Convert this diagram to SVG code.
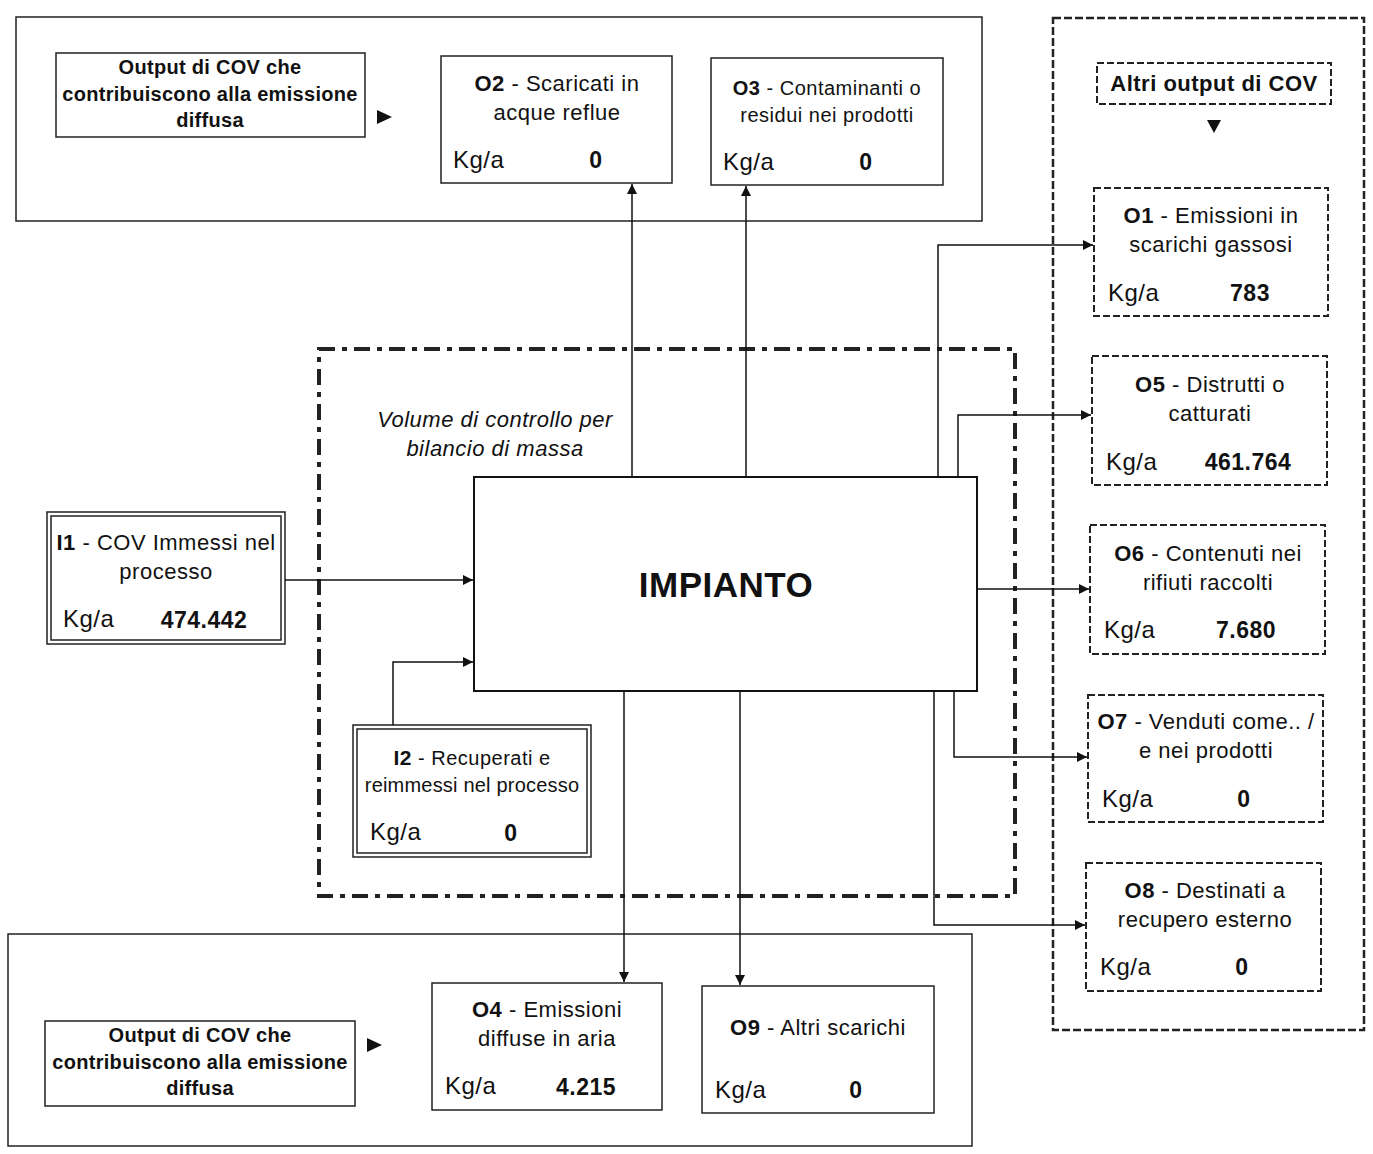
<svg xmlns="http://www.w3.org/2000/svg" width="1373" height="1154" viewBox="0 0 1373 1154">
<style>
text{font-family:"Liberation Sans",Arial,sans-serif;fill:#111;letter-spacing:0.5px}
.t{font-size:22px;text-anchor:middle}
.ts{font-size:20px;text-anchor:middle}
.b{font-weight:bold}
.k{font-size:24px}
.v{font-size:23px;font-weight:bold;text-anchor:middle}
.hd{font-size:20px;font-weight:bold;text-anchor:middle;letter-spacing:0.3px}
.solid{fill:#fff;stroke:#222;stroke-width:1.5}
.dash{fill:#fff;stroke:#222;stroke-width:2;stroke-dasharray:7 3}
.dbl{fill:none;stroke:#222;stroke-width:1.5}
.conn path{fill:none;stroke:#111;stroke-width:1.5}
.tri{fill:#111}
</style>
<defs>
<marker id="ah" viewBox="0 0 10 10" refX="10" refY="5" markerWidth="10" markerHeight="10" markerUnits="userSpaceOnUse" orient="auto">
<path d="M0,0 L10,5 L0,10 z" fill="#111"/>
</marker>
</defs>
<rect width="1373" height="1154" fill="#fff"/>

<g id="top-frame">
<rect x="16" y="17" width="966" height="204" fill="none" stroke="#222" stroke-width="1.5"/>
</g>
<g id="bottom-frame">
<rect x="8" y="934" width="964" height="212" fill="none" stroke="#222" stroke-width="1.5"/>
</g>
<g id="right-frame">
<rect x="1053" y="18" width="311" height="1012" fill="none" stroke="#222" stroke-width="2.5" stroke-dasharray="8 3"/>
</g>
<g id="control-volume">
<rect x="319" y="349" width="696" height="547" fill="none" stroke="#222" stroke-width="4" stroke-dasharray="16 7 5 7"/>
<text x="495" y="427" style="font-size:22px;font-style:italic;text-anchor:middle">Volume di controllo per</text>
<text x="495" y="456" style="font-size:22px;font-style:italic;text-anchor:middle">bilancio di massa</text>
</g>

<g id="label-top">
<rect class="solid" x="56" y="53" width="309" height="84"/>
<text class="hd" x="210" y="74">Output di COV che</text>
<text class="hd" x="210" y="101">contribuiscono alla emissione</text>
<text class="hd" x="210" y="127">diffusa</text>
<path class="tri" d="M377,110 L392,117 L377,124 z"/>
</g>

<g id="label-bottom">
<rect class="solid" x="45" y="1021" width="310" height="85"/>
<text class="hd" x="200" y="1042">Output di COV che</text>
<text class="hd" x="200" y="1069">contribuiscono alla emissione</text>
<text class="hd" x="200" y="1095">diffusa</text>
<path class="tri" d="M367,1038 L382,1045 L367,1052 z"/>
</g>

<g id="label-right">
<rect class="dash" x="1097" y="63" width="234" height="41"/>
<text class="b" x="1214" y="91" style="font-size:22px;text-anchor:middle">Altri output di COV</text>
<path class="tri" d="M1207,120 L1221,120 L1214,133 z"/>
</g>

<g id="O2">
<rect class="solid" x="441" y="56" width="231" height="127"/>
<text class="t" x="557" y="91"><tspan class="b">O2</tspan> - Scaricati in</text>
<text class="t" x="557" y="120">acque reflue</text>
<text class="k" x="453" y="168">Kg/a</text>
<text class="v" x="596" y="168">0</text>
</g>

<g id="O3">
<rect class="solid" x="711" y="58" width="232" height="127"/>
<text class="ts" x="827" y="95"><tspan class="b">O3</tspan> - Contaminanti o</text>
<text class="ts" x="827" y="122">residui nei prodotti</text>
<text class="k" x="723" y="170">Kg/a</text>
<text class="v" x="866" y="170">0</text>
</g>

<g id="O1">
<rect class="dash" x="1094" y="188" width="234" height="128"/>
<text class="t" x="1211" y="223"><tspan class="b">O1</tspan> - Emissioni in</text>
<text class="t" x="1211" y="252">scarichi gassosi</text>
<text class="k" x="1108" y="301">Kg/a</text>
<text class="v" x="1250" y="301">783</text>
</g>

<g id="O5">
<rect class="dash" x="1092" y="356" width="235" height="129"/>
<text class="t" x="1210" y="392"><tspan class="b">O5</tspan> - Distrutti o</text>
<text class="t" x="1210" y="421">catturati</text>
<text class="k" x="1106" y="470">Kg/a</text>
<text class="v" x="1248" y="470">461.764</text>
</g>

<g id="O6">
<rect class="dash" x="1090" y="525" width="235" height="129"/>
<text class="t" x="1208" y="561"><tspan class="b">O6</tspan> - Contenuti nei</text>
<text class="t" x="1208" y="590">rifiuti raccolti</text>
<text class="k" x="1104" y="638">Kg/a</text>
<text class="v" x="1246" y="638">7.680</text>
</g>

<g id="O7">
<rect class="dash" x="1088" y="695" width="235" height="127"/>
<text class="t" x="1206" y="729"><tspan class="b">O7</tspan> - Venduti come.. /</text>
<text class="t" x="1206" y="758">e nei prodotti</text>
<text class="k" x="1102" y="807">Kg/a</text>
<text class="v" x="1244" y="807">0</text>
</g>

<g id="O8">
<rect class="dash" x="1086" y="863" width="235" height="128"/>
<text class="t" x="1205" y="898"><tspan class="b">O8</tspan> - Destinati a</text>
<text class="t" x="1205" y="927">recupero esterno</text>
<text class="k" x="1100" y="975">Kg/a</text>
<text class="v" x="1242" y="975">0</text>
</g>

<g id="I1">
<rect class="dbl" x="47" y="512" width="238" height="132"/>
<rect class="dbl" x="51" y="516" width="230" height="124" fill="#fff"/>
<text class="t" x="166" y="550"><tspan class="b">I1</tspan> - COV Immessi nel</text>
<text class="t" x="166" y="579">processo</text>
<text class="k" x="63" y="627">Kg/a</text>
<text class="v" x="204" y="628">474.442</text>
</g>

<g id="I2">
<rect class="dbl" x="353" y="725" width="238" height="132"/>
<rect class="dbl" x="357" y="729" width="230" height="124"/>
<text class="ts" x="472" y="765"><tspan class="b" style="font-size:21px">I2</tspan> - Recuperati e</text>
<text class="ts" x="472" y="792" style="letter-spacing:0.2px">reimmessi nel processo</text>
<text class="k" x="370" y="840">Kg/a</text>
<text class="v" x="511" y="841">0</text>
</g>

<g id="O4">
<rect class="solid" x="432" y="983" width="230" height="127"/>
<text class="t" x="547" y="1017"><tspan class="b">O4</tspan> - Emissioni</text>
<text class="t" x="547" y="1046">diffuse in aria</text>
<text class="k" x="445" y="1094">Kg/a</text>
<text class="v" x="586" y="1095">4.215</text>
</g>

<g id="O9">
<rect class="solid" x="702" y="986" width="232" height="127"/>
<text class="t" x="818" y="1035"><tspan class="b">O9</tspan> - Altri scarichi</text>
<text class="k" x="715" y="1098">Kg/a</text>
<text class="v" x="856" y="1098">0</text>
</g>

<g id="connectors" class="conn">
<path d="M285,580 H473" marker-end="url(#ah)"/>
<path d="M393,725 V662 H473" marker-end="url(#ah)"/>
<path d="M632,477 V184" marker-end="url(#ah)"/>
<path d="M746,477 V186" marker-end="url(#ah)"/>
<path d="M938,478 V245 H1093" marker-end="url(#ah)"/>
<path d="M958,480 V415 H1091" marker-end="url(#ah)"/>
<path d="M977,589 H1089" marker-end="url(#ah)"/>
<path d="M954,692 V757 H1087" marker-end="url(#ah)"/>
<path d="M934,692 V925 H1085" marker-end="url(#ah)"/>
<path d="M624,692 V982" marker-end="url(#ah)"/>
<path d="M740,692 V985" marker-end="url(#ah)"/>
</g>

<g id="IMPIANTO">
<rect x="474" y="477" width="503" height="214" fill="#fff" stroke="#111" stroke-width="2"/>
<text x="726" y="597" style="font-size:35px;font-weight:bold;text-anchor:middle">IMPIANTO</text>
</g>
</svg>
